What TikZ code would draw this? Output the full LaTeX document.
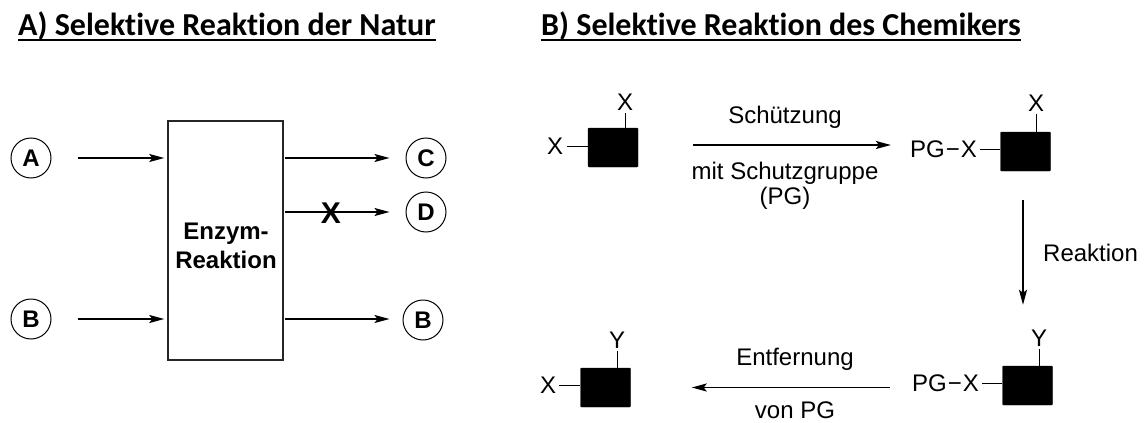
\documentclass[tikz,border=0pt]{standalone}
\usepackage{fontspec}
\setmainfont{Liberation Sans}
\newfontfamily\calibri[Ligatures={NoCommon}]{Carlito}
\usetikzlibrary{arrows.meta,calc}
\begin{document}
\begin{tikzpicture}[x=1pt,y=-1pt,
  title/.style={font=\calibri\bfseries\fontsize{32}{37}\selectfont, inner sep=0pt, anchor=base west},
  circ/.style={circle, draw, line width=1pt, minimum size=40pt, inner sep=0pt, font=\bfseries\fontsize{24}{26}\selectfont},
  arr/.style={line width=1.8pt, -{Stealth[length=15pt,width=8pt,inset=3pt]}},
  lbl/.style={font=\fontsize{24}{25}\selectfont, inner sep=0pt, align=center},
  blk/.style={fill=black, draw=black, rounded corners=1pt, minimum width=50pt, minimum height=39pt, inner sep=0pt},
  bond/.style={line width=0.9pt}
]
\useasboundingbox (0,0) rectangle (1144,423);

% titles
\node[title] (tA) at (18,35) {A) Selektive Reaktion der Natur};
\draw[line width=2.5pt] ($(tA.base west)+(0,5)$) -- ($(tA.base east)+(0,5)$);
\node[title] (tB) at (541,35) {B) Selektive Reaktion des Chemikers};
\draw[line width=2.5pt] ($(tB.base west)+(0,5)$) -- ($(tB.base east)+(0,5)$);

% panel A
\node[draw=black!85, line width=1.5pt, minimum width=115pt, minimum height=239pt, inner sep=0pt] (enz) at (225.5,240.5) {};
\node[font=\bfseries\fontsize{24}{29}\selectfont, align=center, inner sep=0pt] (enztxt) at (226,246) {Enzym-\\Reaktion};
\node[circ] (A) at (31,158) {A};
\node[circ] (Bl) at (31,319) {B};
\node[circ] (C) at (426,158) {C};
\node[circ] (D) at (426,212) {D};
\node[circ] (Br) at (423,320) {B};
\draw[arr, shorten <=26pt, shorten >=3pt] (A.east) -- (enz.west |- A.east);
\draw[arr, shorten <=26pt, shorten >=3pt] (Bl.east) -- (enz.west |- Bl.east);
\draw[arr, shorten <=1pt, shorten >=16pt] (enz.east |- C.west) -- (C.west);
\draw[arr, shorten <=1pt, shorten >=16pt] (enz.east |- D.west) -- (D.west);
\draw[arr, shorten <=1pt, shorten >=13pt] (enz.east |- Bl.east) -- (Br.west |- Bl.east);
\node[font=\bfseries\fontsize{30}{30}\selectfont, inner sep=0pt] (xm) at (331,213) {X};

% panel B: molecule 1
\node[blk] (m1) at (613,147.5) {};
\node[lbl] (m1l) at (555,146) {X};
\node[lbl] (m1t) at (625,102) {X};
\draw[bond] ($(m1l.east)+(4,0)$) -- (m1.west |- m1l.east);
\draw[bond] ($(m1t.south)+(0,3)$) -- (m1t.south |- m1.north);

% molecule 2
\node[blk] (m2) at (1025.5,151.5) {};
\node[lbl, anchor=east] (pg1) at (977,149) {PG\kern1pt−\kern1pt X};
\node[lbl] (m2t) at (1036,103) {X};
\draw[bond] ($(pg1.east)+(3,0)$) -- (m2.west |- pg1.east);
\draw[bond] ($(m2t.south)+(0,3)$) -- (m2t.south |- m2.north);

% molecule 3
\node[blk] (m3) at (1027.5,385.5) {};
\node[lbl, anchor=east] (pg2) at (979,383) {PG\kern1pt−\kern1pt X};
\node[lbl] (m3t) at (1039,338) {Y};
\draw[bond] ($(pg2.east)+(3,0)$) -- (m3.west |- pg2.east);
\draw[bond] ($(m3t.south)+(0,3)$) -- (m3t.south |- m3.north);

% molecule 4
\node[blk] (m4) at (605.5,387.5) {};
\node[lbl] (m4l) at (548,385) {X};
\node[lbl] (m4t) at (617,340) {Y};
\draw[bond] ($(m4l.east)+(3,0)$) -- (m4.west |- m4l.east);
\draw[bond] ($(m4t.south)+(0,3)$) -- (m4t.south |- m4.north);

% reaction arrows
\draw[arr, shorten <=55pt, shorten >=19pt] (m1.east |- 0,145) -- (pg1.west |- 0,145);
\node[lbl] (s1) at (785,117) {Schützung};
\node[lbl] (s2) at (785,185.5) {mit Schutzgruppe\\(PG)};

\draw[arr] ($(m2.south)+(-2.5,29)$) -- ($(m3.north)+(-4.5,-61)$);
\node[lbl, anchor=west] (s3) at (1043,253) {Reaktion};

\draw[arr, shorten <=22pt, shorten >=61pt] (pg2.west |- m4.east) -- (m4.east);
\node[lbl] (s4) at (795,359) {Entfernung};
\node[lbl] (s5) at (795,410) {von PG};
\end{tikzpicture}
\end{document}
